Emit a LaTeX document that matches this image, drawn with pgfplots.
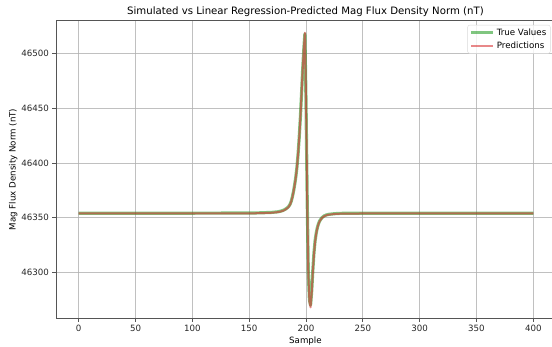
\documentclass[border=0pt]{standalone}
\usepackage{fontspec}
\setmainfont{DejaVu Sans}
\usepackage{pgfplots}
\usepackage{pgfplotstable}
\pgfplotsset{compat=1.18}
\definecolor{tgreen}{HTML}{2CA02C}
\definecolor{tred}{HTML}{D62728}
\definecolor{gridc}{HTML}{B0B0B0}
\definecolor{spinec}{HTML}{555555}

\pgfplotstableread{
x y
0 46354.1
25 46354.1
50 46354.1
75 46354.1
100 46354.1
125 46354.15
150 46354.2
160 46354.4
170 46354.8
175 46355.3
178 46356.0
180 46356.7
182 46357.8
184 46359.4
185 46360.6
186 46362.3
187 46365
188 46369
189 46374
190 46380
191 46387
192 46396
193 46408
194 46423
195 46441
196 46462
197 46484
198 46503
199 46518
200 46455
201 46370
202 46300
203 46275
204 46270
205 46283
206 46302
207 46318
208 46329
209 46336
210 46341
211 46344.5
212 46347
214 46350
216 46351.6
218 46352.5
220 46353
225 46353.6
230 46353.9
240 46354.05
250 46354.1
300 46354.1
350 46354.1
400 46354.1
}\truetab

\pgfplotstableread{
x y
0 46353.8
25 46353.8
50 46353.8
75 46353.8
100 46353.8
125 46353.85
150 46353.9
160 46354.1
170 46354.5
175 46355.0
178 46355.7
180 46356.4
182 46357.5
184 46359.1
185 46360.3
186 46362.0
187 46364.7
188 46368.7
189 46373.7
190 46379.7
191 46386.7
192 46395.7
193 46407.7
194 46422.7
195 46440.5
196 46461.5
197 46483.5
198 46503
199 46519
200 46458
201 46372
202 46299
203 46273
204 46268
205 46281
206 46300.5
207 46316.5
208 46328
209 46335.5
210 46340.6
211 46344.2
212 46346.7
214 46349.7
216 46351.3
218 46352.2
220 46352.7
225 46353.3
230 46353.6
240 46353.75
250 46353.8
300 46353.8
350 46353.8
400 46353.8
}\predtab

\begin{document}
\begin{tikzpicture}
\begin{axis}[
  at={(0,0)}, anchor=south west,
  scale only axis,
  width=498.9bp, height=297.6bp,
  xmin=-20, xmax=419,
  ymin=46258, ymax=46530,
  xtick={0,50,...,400},
  ytick={46300,46350,...,46500},
  scaled y ticks=false,
  scaled x ticks=false,
  yticklabel style={/pgf/number format/fixed, /pgf/number format/precision=0},
  /pgf/number format/assume math mode=true,
  /pgf/number format/1000 sep={},
  tick label style={font=\fontsize{8.7}{10}\selectfont, text=black!85},
  tick align=outside,
  major tick length=3.5bp,
  tick style={spinec, line width=0.8bp},
  xtick pos=bottom, ytick pos=left,
  grid=major,
  major grid style={gridc, line width=0.8bp, opacity=0.8},
  axis line style={spinec, line width=0.8bp},
  title={Simulated vs Linear Regression-Predicted Mag Flux Density Norm (nT)},
  every axis title/.style={at={(axis description cs:0.5,1)}, anchor=base, yshift=5.7bp, font=\fontsize{10.2}{12}\selectfont},
  xlabel={Sample},
  xlabel style={font=\fontsize{8.7}{10}\selectfont, at={(axis description cs:0.5,0)}, anchor=base, yshift=-24.7bp},
  ylabel={Mag Flux Density Norm (nT)},
  ylabel style={font=\fontsize{8.7}{10}\selectfont, at={(axis description cs:-0.0855,0.5)}, anchor=center},
  legend style={at={(rel axis cs:1,1)}, anchor=north east, xshift=-4.4bp, yshift=-4.3bp,
    font=\fontsize{8.7}{10}\selectfont, draw=black!15, rounded corners=2bp,
    fill=white, fill opacity=0.8, text opacity=1, row sep=1bp, inner xsep=2bp, inner ysep=1.5bp},
  legend cell align=left,
  legend image code/.code={\draw[#1] (0bp,0bp) -- (22bp,0bp);},
]
\addplot[tgreen, opacity=0.6, line width=3.2bp, line join=round] table[x=x,y=y] {\truetab};
\addlegendentry{True Values}
\addplot[tred, opacity=0.55, line width=2bp, line join=round] table[x=x,y=y] {\predtab};
\addlegendentry{Predictions}
\end{axis}
\pgfresetboundingbox
\useasboundingbox (-56bp,-28.7bp) rectangle (496bp,318.3bp);
\end{tikzpicture}
\end{document}
